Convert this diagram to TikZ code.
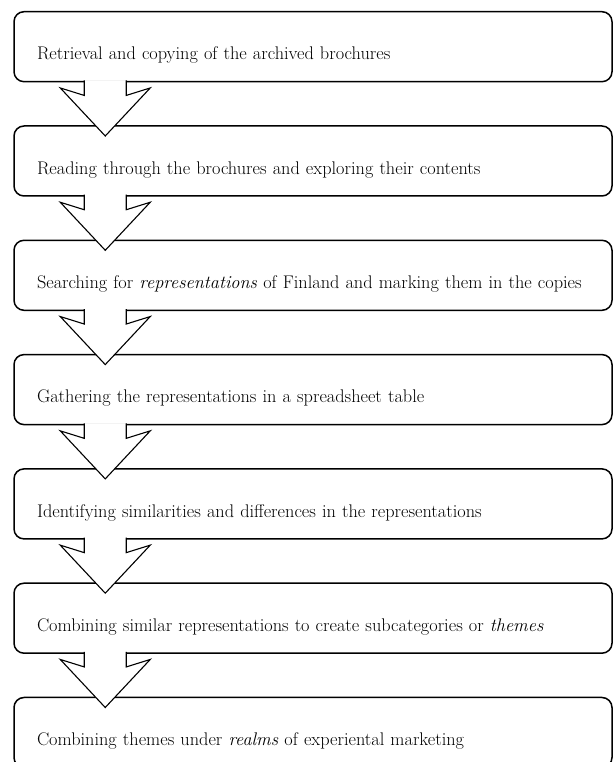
\documentclass[tikz,border=0pt]{standalone}
\usetikzlibrary{positioning, calc}

\begin{document}
\begin{tikzpicture}[
  x=1pt, y=1pt,
  font=\fontsize{18.3}{21}\selectfont,
  stage/.style={draw, line width=1.5pt, rounded corners=10pt, fill=white,
    minimum width=598pt, minimum height=70pt, text width=552pt,
    text height=30pt, text depth=3.4pt, align=left, inner xsep=23pt},
  flow/.style={draw, line width=1.1pt, fill=white, line join=miter},
]
  \useasboundingbox (0,0) rectangle (613,762);
  \clip (0,0) rectangle (613,762);

  \node[stage] (s1) at (313,715.3) {Retrieval and copying of the archived brochures};
  \node[stage, below=42.8pt of s1] (s2) {Reading through the brochures and exploring their contents};
  \node[stage, below=42.8pt of s2] (s3) {Searching for \textit{representations} of Finland and marking them in the copies};
  \node[stage, below=42.8pt of s3] (s4) {Gathering the representations in a spreadsheet table};
  \node[stage, below=42.8pt of s4] (s5) {Identifying similarities and differences in the representations};
  \node[stage, below=42.8pt of s5] (s6) {Combining similar representations to create subcategories or \textit{themes}};
  \node[stage, below=42.8pt of s6] (s7) {Combining themes under \textit{realms} of experiental marketing};

  % hollow arrows between the stages
  \foreach \a/\b in {s1/s2, s2/s3, s3/s4, s4/s5, s5/s6, s6/s7} {
    \coordinate (top) at ([xshift=92pt, yshift=2pt]\a.south west);
    \coordinate (tip) at ($(top |- \b.north) + (0,-10.75)$);
    \draw[flow] ($(top)+(-21,0)$) -- ($(top)+(-21,-15)$) -- ($(top)+(-45,-7.5)$)
      -- (tip) -- ($(top)+(45,-7.5)$) -- ($(top)+(21,-15)$) -- ($(top)+(21,0)$);
  }
\end{tikzpicture}
\end{document}
